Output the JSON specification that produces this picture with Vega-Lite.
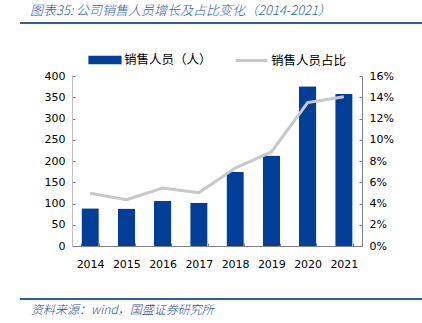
{
  "$schema": "https://vega.github.io/schema/vega-lite/v6.json",
  "padding": {"left": 19, "top": 5, "right": 0, "bottom": 0},
  "background": "white",
  "spacing": 19,
  "config": {
    "view": {"stroke": null},
    "font": "DejaVu Sans"
  },
  "vconcat": [
    {
      "width": 351,
      "height": 1,
      "title": {
        "text": "图表35:  公司销售人员增长及占比变化（2014-2021）",
        "anchor": "start",
        "frame": "group",
        "dx": -42,
        "offset": 4,
        "font": "Noto Sans CJK SC",
        "fontStyle": "italic",
        "fontWeight": 300,
        "fontSize": 13,
        "color": "#2E5FAA"
      },
      "data": {"values": [{"v": 0, "x0": -0.1481, "x1": 1}]},
      "mark": {"type": "rule", "color": "#2E5DA6", "strokeWidth": 2},
      "encoding": {
        "x": {"field": "x0", "type": "quantitative", "scale": {"domain": [0, 1], "zero": false, "nice": false}, "axis": null},
        "x2": {"field": "x1"},
        "y": {"field": "v", "type": "quantitative", "scale": {"domain": [0, 1]}, "axis": null}
      }
    },
    {
      "width": 290,
      "height": 170,
      "data": {
        "values": [
          {"year": "2014", "staff": 89, "ratio": 0.0497},
          {"year": "2015", "staff": 88, "ratio": 0.0435},
          {"year": "2016", "staff": 106, "ratio": 0.0545},
          {"year": "2017", "staff": 102, "ratio": 0.0502},
          {"year": "2018", "staff": 174, "ratio": 0.0733},
          {"year": "2019", "staff": 213, "ratio": 0.0885},
          {"year": "2020", "staff": 376, "ratio": 0.135},
          {"year": "2021", "staff": 358, "ratio": 0.1405}
        ]
      },
      "encoding": {
        "x": {
          "field": "year",
          "type": "ordinal",
          "scale": {"paddingInner": 0.52, "paddingOuter": 0.26},
          "axis": {
            "title": null,
            "labelAngle": 0,
            "labelFont": "DejaVu Sans",
            "labelFontSize": 11,
            "labelColor": "#000000",
            "labelPadding": 15,
            "domainColor": "#808080",
            "tickColor": "#808080",
            "tickBand": "extent",
            "tickSize": -3,
            "grid": false
          }
        }
      },
      "layer": [
        {
          "mark": {"type": "bar", "color": "#003E97", "cornerRadius": 1},
          "encoding": {
            "y": {
              "field": "staff",
              "type": "quantitative",
              "scale": {"domain": [0, 400]},
              "axis": {
                "orient": "left",
                "title": null,
                "values": [0, 50, 100, 150, 200, 250, 300, 350, 400],
                "grid": false,
                "labelFont": "DejaVu Sans",
                "labelFontSize": 11,
                "labelColor": "#000000",
                "labelPadding": 10,
                "domainColor": "#BFBFBF",
                "tickColor": "#808080",
                "tickSize": -3,
                "minExtent": 52,
                "maxExtent": 52
              }
            },
            "color": {
              "datum": "销售人员（人）",
              "scale": {"range": ["#003E97"]},
              "legend": {
                "orient": "none",
                "legendX": 16,
                "legendY": -33,
                "title": null,
                "symbolType": "M-1,-0.25H1V0.25H-1Z",
                "symbolSize": 1100,
                "symbolStrokeWidth": 0,
                "labelFont": "Noto Sans CJK SC",
                "labelFontSize": 12.5,
                "labelColor": "#000000",
                "labelOffset": 2
              }
            }
          }
        },
        {
          "mark": {"type": "line", "strokeWidth": 3, "color": "#C8C8C8"},
          "encoding": {
            "y": {
              "field": "ratio",
              "type": "quantitative",
              "scale": {"domain": [0, 0.16]},
              "axis": {
                "orient": "right",
                "title": null,
                "format": ".0%",
                "values": [0, 0.02, 0.04, 0.06, 0.08, 0.1, 0.12, 0.14, 0.16],
                "grid": false,
                "labelFont": "DejaVu Sans",
                "labelFontSize": 11,
                "labelColor": "#000000",
                "labelPadding": 10,
                "domainColor": "#808080",
                "tickColor": "#808080",
                "tickSize": -3
              }
            },
            "stroke": {
              "datum": "销售人员占比",
              "scale": {"range": ["#C8C8C8"]},
              "legend": {
                "orient": "none",
                "legendX": 162,
                "legendY": -33,
                "title": null,
                "symbolType": "stroke",
                "symbolSize": 1000,
                "symbolStrokeWidth": 3,
                "labelFont": "Noto Sans CJK SC",
                "labelFontSize": 12.5,
                "labelColor": "#000000",
                "labelOffset": 2
              }
            }
          }
        }
      ],
      "resolve": {"scale": {"y": "independent", "color": "independent", "stroke": "independent"}}
    },
    {
      "width": 351,
      "height": 11,
      "title": {
        "text": "资料来源：wind，国盛证券研究所",
        "orient": "bottom",
        "anchor": "start",
        "frame": "group",
        "dx": -41,
        "offset": 5,
        "font": "Noto Sans CJK SC",
        "fontStyle": "italic",
        "fontWeight": 300,
        "fontSize": 12,
        "color": "#1F4E9C"
      },
      "data": {"values": [{"v": 0, "x0": -0.1481, "x1": 1}]},
      "mark": {"type": "rule", "color": "#2E5DA6", "strokeWidth": 2},
      "encoding": {
        "x": {"field": "x0", "type": "quantitative", "scale": {"domain": [0, 1], "zero": false, "nice": false}, "axis": null},
        "x2": {"field": "x1"},
        "y": {"field": "v", "type": "quantitative", "scale": {"domain": [0, 1]}, "axis": null}
      }
    }
  ]
}
